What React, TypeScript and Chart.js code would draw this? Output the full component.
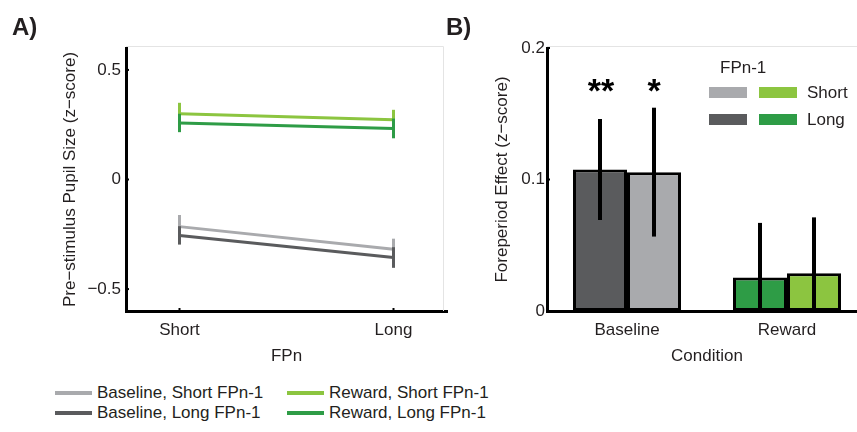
import React, { useEffect, useRef } from 'react';
import { Chart, registerables } from 'chart.js';
Chart.register(...registerables);

const FONT = 'Arial, "Liberation Sans", Helvetica, sans-serif';
const TEXT = '#231f20';

// ---------- Panel A data ----------
const fpnCategories = ['Short', 'Long'];
const fpnPositions = [1, 2];
const baselineShortMean = [-0.215, -0.318];
const baselineShortErr = [0.053, 0.048];
const baselineLongMean = [-0.255, -0.356];
const baselineLongErr = [0.042, 0.047];
const rewardShortMean = [0.3, 0.273];
const rewardShortErr = [0.05, 0.045];
const rewardLongMean = [0.258, 0.233];
const rewardLongErr = [0.042, 0.045];
const yTicksA = [-0.5, 0, 0.5];

// ---------- Panel B data ----------
const conditions = ['Baseline', 'Reward'];
const longEffect = [0.1076, 0.0254];
const longEffectErr = [0.0384, 0.0416];
const shortEffect = [0.1056, 0.0288];
const shortEffectErr = [0.049, 0.0424];
const significanceLong = ['**', ''];
const significanceShort = ['*', ''];
const yTicksB = [0, 0.1, 0.2];

const COL = {
  lightGray: '#a9aaad',
  darkGray: '#5a5b5d',
  lightGreen: '#8cc540',
  darkGreen: '#2e9c46',
};

const errorsA = [baselineShortErr, baselineLongErr, rewardShortErr, rewardLongErr];
const errorsB = [longEffectErr, shortEffectErr];
const sigB = [significanceLong, significanceShort];

const fmtTick = (v: number) =>
  v === 0 ? '0' : (v < 0 ? '\u2212' : '') + String(Math.abs(v));

const framePlugin = {
  id: 'frame',
  afterDraw(chart: any) {
    const { ctx, chartArea } = chart;
    ctx.save();
    ctx.strokeStyle = '#e4e4e4';
    ctx.lineWidth = 1;
    ctx.beginPath();
    ctx.moveTo(chartArea.left, chartArea.top - 1.5);
    ctx.lineTo(chartArea.right - 3.5, chartArea.top - 1.5);
    ctx.lineTo(chartArea.right - 3.5, chartArea.bottom);
    ctx.stroke();
    // small inward tick marks
    ctx.strokeStyle = '#000';
    ctx.lineWidth = 2;
    const xs = chart.scales.x;
    const ys = chart.scales.y;
    ys.ticks.forEach((t: any) => {
      const y = ys.getPixelForValue(t.value);
      ctx.beginPath();
      ctx.moveTo(chartArea.left, y);
      ctx.lineTo(chartArea.left + 3, y);
      ctx.stroke();
    });
    if (xs.type === 'linear') {
      xs.ticks.forEach((t: any) => {
        const x = xs.getPixelForValue(t.value);
        ctx.beginPath();
        ctx.moveTo(x, chartArea.bottom);
        ctx.lineTo(x, chartArea.bottom - 3);
        ctx.stroke();
      });
    }
    ctx.restore();
  },
};

const errPluginA = {
  id: 'errA',
  afterDatasetDraw(chart: any, args: any) {
    const { ctx } = chart;
    const ys = chart.scales.y;
    const ds = chart.data.datasets[args.index];
    const errs = errorsA[args.index];
    ctx.save();
    ctx.strokeStyle = ds.borderColor;
    ctx.lineWidth = 3;
    args.meta.data.forEach((pt: any, i: number) => {
      const v = ds.data[i].y;
      ctx.beginPath();
      ctx.moveTo(pt.x, ys.getPixelForValue(v + errs[i]));
      ctx.lineTo(pt.x, ys.getPixelForValue(v - errs[i]));
      ctx.stroke();
    });
    ctx.restore();
  },
};

const errPluginB = {
  id: 'errB',
  afterDatasetsDraw(chart: any) {
    const { ctx, chartArea } = chart;
    const ys = chart.scales.y;
    ctx.save();
    ctx.beginPath();
    ctx.rect(chartArea.left, chartArea.top - 20, chartArea.right - chartArea.left, chartArea.bottom - chartArea.top + 20);
    ctx.clip();
    chart.data.datasets.forEach((ds: any, di: number) => {
      const meta = chart.getDatasetMeta(di);
      meta.data.forEach((bar: any, i: number) => {
        const v = ds.data[i];
        const e = errorsB[di][i];
        ctx.strokeStyle = '#000';
        ctx.lineWidth = 4;
        ctx.beginPath();
        ctx.moveTo(bar.x, ys.getPixelForValue(v + e));
        ctx.lineTo(bar.x, Math.min(ys.getPixelForValue(v - e), chartArea.bottom));
        ctx.stroke();
      });
    });
    ctx.restore();
    ctx.save();
    ctx.fillStyle = '#000';
    ctx.font = 'bold 34px ' + FONT;
    ctx.textAlign = 'center';
    ctx.textBaseline = 'alphabetic';
    chart.data.datasets.forEach((ds: any, di: number) => {
      const meta = chart.getDatasetMeta(di);
      meta.data.forEach((bar: any, i: number) => {
        const s = sigB[di][i];
        if (s) ctx.fillText(s, bar.x + (s.length > 1 ? 1 : 0), ys.getPixelForValue(0.159));
      });
    });
    ctx.restore();
  },
};

function PanelA() {
  const ref = useRef<HTMLCanvasElement>(null);
  useEffect(() => {
    const mk = (label: string, mean: number[], color: string, order: number) => ({
      label,
      data: fpnPositions.map((x, i) => ({ x, y: mean[i] })),
      borderColor: color,
      backgroundColor: color,
      borderWidth: 3,
      pointRadius: 0,
      fill: false,
      tension: 0,
      order,
    });
    const font = { family: FONT, size: 17 };
    const chart = new Chart(ref.current!, {
      type: 'line',
      data: {
        datasets: [
          mk('Baseline, Short FPn-1', baselineShortMean, COL.lightGray, 2),
          mk('Baseline, Long FPn-1', baselineLongMean, COL.darkGray, 1),
          mk('Reward, Short FPn-1', rewardShortMean, COL.lightGreen, 2),
          mk('Reward, Long FPn-1', rewardLongMean, COL.darkGreen, 1),
        ],
      },
      options: {
        responsive: false,
        animation: false,
        layout: { padding: { top: 48, right: 3, left: 0, bottom: 0 } },
        plugins: { legend: { display: false }, tooltip: { enabled: false } },
        scales: {
          x: {
            type: 'linear',
            min: 0.75,
            max: 2.25,
            afterBuildTicks: (s: any) => {
              s.ticks = fpnPositions.map((v) => ({ value: v }));
            },
            afterFit: (s: any) => {
              s.height = 61;
            },
            ticks: {
              callback: (v: any) => fpnCategories[fpnPositions.indexOf(Number(v))] ?? '',
              font,
              color: TEXT,
              padding: 9,
              maxRotation: 0,
              autoSkip: false,
            },
            grid: { display: false, drawTicks: false },
            border: { display: true, color: '#000', width: 3 },
            title: { display: true, text: 'FPn', font, color: TEXT, padding: { top: 0, bottom: 5 } },
          },
          y: {
            type: 'linear',
            min: -0.6,
            max: 0.6,
            afterBuildTicks: (s: any) => {
              s.ticks = yTicksA.map((v) => ({ value: v }));
            },
            afterFit: (s: any) => {
              s.width = 126;
            },
            ticks: { callback: (v: any) => fmtTick(Number(v)), font, color: TEXT, padding: 5 },
            grid: { display: false, drawTicks: false },
            border: { display: true, color: '#000', width: 3 },
            title: {
              display: true,
              text: 'Pre\u2212stimulus Pupil Size (z\u2212score)',
              font,
              color: TEXT,
              padding: { top: 60, bottom: 0 },
            },
          },
        },
      } as any,
      plugins: [errPluginA, framePlugin],
    });
    return () => chart.destroy();
  }, []);
  return (
    <canvas ref={ref} width={450} height={372} style={{ position: 'absolute', left: 0, top: 0, width: 450, height: 372 }} />
  );
}

function PanelB() {
  const ref = useRef<HTMLCanvasElement>(null);
  useEffect(() => {
    const font = { family: FONT, size: 17 };
    const chart = new Chart(ref.current!, {
      type: 'bar',
      data: {
        labels: conditions,
        datasets: [
          {
            label: 'Long',
            data: longEffect,
            backgroundColor: [COL.darkGray, COL.darkGreen],
            borderColor: '#000',
            borderWidth: 3,
            borderSkipped: false,
            categoryPercentage: 0.675,
            barPercentage: 1,
          },
          {
            label: 'Short',
            data: shortEffect,
            backgroundColor: [COL.lightGray, COL.lightGreen],
            borderColor: '#000',
            borderWidth: 3,
            borderSkipped: false,
            categoryPercentage: 0.675,
            barPercentage: 1,
          },
        ],
      },
      options: {
        responsive: false,
        animation: false,
        layout: { padding: { top: 48, right: 0, left: 0, bottom: 0 } },
        plugins: { legend: { display: false }, tooltip: { enabled: false } },
        scales: {
          x: {
            type: 'category',
            afterFit: (s: any) => {
              s.height = 61;
            },
            ticks: { font, color: TEXT, padding: 9, maxRotation: 0 },
            grid: { display: false, drawTicks: false },
            border: { display: true, color: '#000', width: 3 },
            title: { display: true, text: 'Condition', font, color: TEXT, padding: { top: 0, bottom: 5 } },
          },
          y: {
            type: 'linear',
            min: 0,
            max: 0.2,
            afterBuildTicks: (s: any) => {
              s.ticks = yTicksB.map((v) => ({ value: v }));
            },
            afterFit: (s: any) => {
              s.width = 107;
            },
            ticks: { callback: (v: any) => fmtTick(Number(v)), font, color: TEXT, padding: 2 },
            grid: { display: false, drawTicks: false },
            border: { display: true, color: '#000', width: 3 },
            title: {
              display: true,
              text: 'Foreperiod Effect (z\u2212score)',
              font,
              color: TEXT,
              padding: { top: 52, bottom: 0 },
            },
          },
        },
      } as any,
      plugins: [errPluginB, framePlugin],
    });
    return () => chart.destroy();
  }, []);
  return (
    <canvas ref={ref} width={427} height={372} style={{ position: 'absolute', left: 440, top: 0, width: 427, height: 372 }} />
  );
}

const textStyle: React.CSSProperties = {
  position: 'absolute',
  fontFamily: FONT,
  fontSize: 17,
  lineHeight: '20px',
  color: TEXT,
  whiteSpace: 'nowrap',
};

function LegendA() {
  const items = [
    { label: 'Baseline, Short FPn-1', color: COL.lightGray, x: 55, y: 383 },
    { label: 'Reward, Short FPn-1', color: COL.lightGreen, x: 287, y: 383 },
    { label: 'Baseline, Long FPn-1', color: COL.darkGray, x: 55, y: 403 },
    { label: 'Reward, Long FPn-1', color: COL.darkGreen, x: 287, y: 403 },
  ];
  return (
    <>
      {items.map((it) => (
        <div key={it.label} style={{ ...textStyle, left: it.x, top: it.y, height: 20 }}>
          <span style={{ position: 'absolute', left: 0, top: 8, width: 37, height: 4, background: it.color }} />
          <span style={{ position: 'absolute', left: 42, top: 0 }}>{it.label}</span>
        </div>
      ))}
    </>
  );
}

function LegendB() {
  return (
    <>
      <div style={{ ...textStyle, left: 720, top: 58 }}>FPn-1</div>
      <div style={{ position: 'absolute', left: 709, top: 87, width: 38, height: 11, background: COL.lightGray }} />
      <div style={{ position: 'absolute', left: 759, top: 87, width: 38, height: 11, background: COL.lightGreen }} />
      <div style={{ ...textStyle, left: 807, top: 83 }}>Short</div>
      <div style={{ position: 'absolute', left: 709, top: 114, width: 38, height: 11, background: COL.darkGray }} />
      <div style={{ position: 'absolute', left: 759, top: 114, width: 38, height: 11, background: COL.darkGreen }} />
      <div style={{ ...textStyle, left: 807, top: 110 }}>Long</div>
    </>
  );
}

export default function App() {
  const panelLabel: React.CSSProperties = {
    position: 'absolute',
    fontFamily: FONT,
    fontSize: 24,
    fontWeight: 'bold',
    lineHeight: '24px',
    color: TEXT,
  };
  return (
    <div
      style={{
        position: 'fixed',
        left: 0,
        top: 0,
        width: 857,
        height: 432,
        overflow: 'hidden',
        background: '#fff',
      }}
    >
      <PanelA />
      <PanelB />
      <div style={{ ...panelLabel, left: 12, top: 15 }}>A)</div>
      <div style={{ ...panelLabel, left: 446, top: 15 }}>B)</div>
      <LegendA />
      <LegendB />
    </div>
  );
}
